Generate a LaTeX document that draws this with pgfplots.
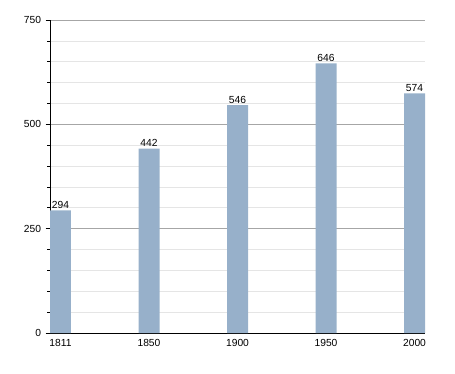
\documentclass[border=0pt]{standalone}
\usepackage{fontspec}
\setmainfont{Liberation Sans}
\usepackage{pgfplots}
\pgfplotsset{compat=1.18}
\definecolor{barc}{RGB}{151,176,202}
\begin{document}
\begin{tikzpicture}[x=1bp,y=1bp]
\path[use as bounding box] (0,0) rectangle (455,373);
\begin{axis}[at={(50bp,40bp)}, anchor=south west, scale only axis,
  width=375bp, height=313bp,
  ymin=0, ymax=750, xmin=-0.1186, xmax=4.1186,
  ytick={0,250,500,750}, minor y tick num=4,
  xtick={0,...,4}, xticklabels={1811,1850,1900,1950,2000},
  axis x line*=bottom, axis y line*=left,
  axis line style={black, line width=0.9bp},
  ymajorgrids, yminorgrids,
  major grid style={color=black!35, line width=0.7bp},
  minor grid style={color=black!10, line width=0.7bp},
  tick align=outside, major tick length=4.5bp, minor tick length=3bp,
  ytick style={black, line width=0.7bp},
  xtick style={draw=none},
  /pgf/number format/assume math mode=true,
  tick label style={font=\fontsize{10.3}{12}\selectfont},
  yticklabel style={xshift=-1bp},
  xticklabel style={yshift=1.5bp},
  ybar, bar width=21bp,
  nodes near coords,
  nodes near coords style={font=\fontsize{10.3}{12}\selectfont, yshift=-1.5bp},
]
\addplot[fill=barc, draw=none] coordinates {(0,294) (1,442) (2,546) (3,646) (4,574)};
\end{axis}
\end{tikzpicture}
\end{document}
